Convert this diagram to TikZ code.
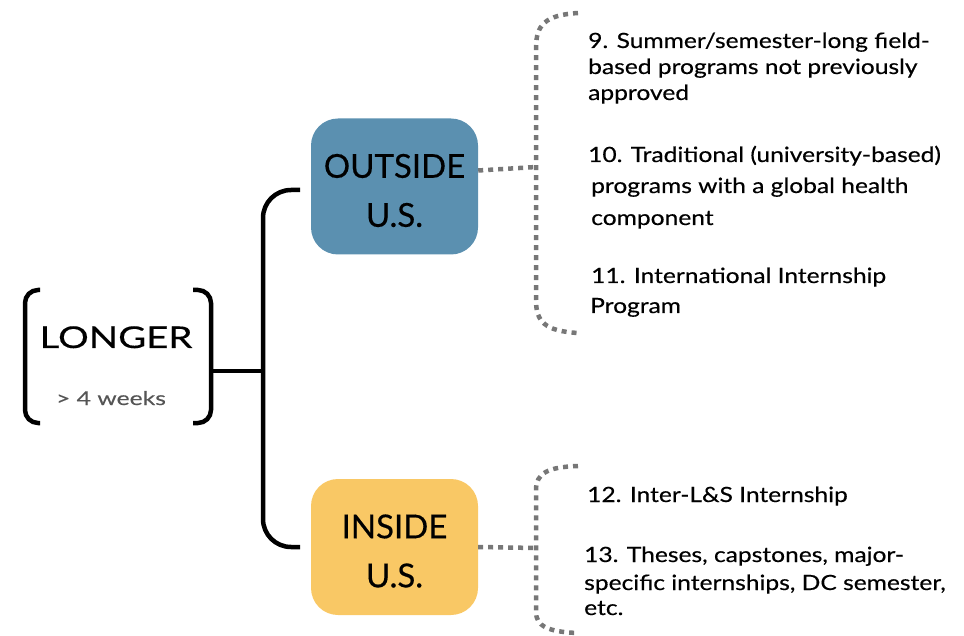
\documentclass[tikz,border=0pt]{standalone}
\usepackage{fontspec}
\setmainfont{Lato}[FakeBold=0.4]
\newfontfamily\itemfont{Lato}[FakeStretch=1.17,FakeBold=0.4]
\newfontfamily\longfont{Lato}[FakeStretch=1.28,FakeBold=0.4]
\newfontfamily\weekfont{Lato}[FakeStretch=1.3,FakeBold=0.3]
\definecolor{boxblue}{HTML}{5B90B0}
\definecolor{boxyellow}{HTML}{F9C865}
\definecolor{dotgray}{HTML}{777777}
\definecolor{subgray}{HTML}{555555}
\begin{document}
\begin{tikzpicture}[x=1pt,y=-1pt]
\tikzset{
  item/.style={anchor=base west, inner sep=0pt, font=\itemfont\fontsize{21}{25}\selectfont, text=black},
  dots/.style={draw=dotgray, line width=4.5pt, dash pattern=on 5pt off 5pt},
  tree/.style={draw=black, line width=4.5pt, rounded corners=28pt},
  paren/.style={draw=black, line width=4.5pt, rounded corners=13pt},
  catbox/.style={rounded corners=27pt, minimum width=167pt, minimum height=136pt, inner sep=0pt},
  cattext/.style={inner sep=0pt, align=center, font=\fontsize{33}{49}\selectfont, text=black},
}
\useasboundingbox (0,0) rectangle (964,636);

% LONGER group
\node[anchor=base, inner sep=0pt, font=\longfont\fontsize{30}{36}\selectfont] (longer) at (116,348) {LONGER};
\node[anchor=base, inner sep=0pt, font=\weekfont\fontsize{19}{22}\selectfont, text=subgray] (weeks) at (111,405) {> 4 weeks};
\draw[paren] (40,290) -- (25,290) -- (25,423) -- (40,423);
\draw[paren] (193,290) -- (211,290) -- (211,423) -- (193,423);
\coordinate (lr) at (211,371);

% boxes
\node[catbox, fill=boxblue] (outside) at (394.5,186.5) {};
\node[cattext] (outsidetext) at ([yshift=-4pt]outside.center) {OUTSIDE\\U.S.};
\node[catbox, fill=boxyellow] (inside) at (394.5,547) {};
\node[cattext] (insidetext) at ([yshift=-4pt]inside.center) {INSIDE\\U.S.};

% tree
\coordinate (trunk) at (263,371);
\coordinate (topend) at (300,190);
\coordinate (botend) at (300,547);
\draw[tree] (topend) -- (263,190) -- (263,547) -- (botend);
\draw[draw=black, line width=4.5pt] (lr) -- (trunk);

% dotted brackets
\coordinate (ob) at (536,167);
\coordinate (ib) at (536,548);
\draw[dots] ([yshift=16pt]outside.east) -- (ob);
\draw[dots] (inside.east) -- (ib);
\draw[dots] (578,13) .. controls (545,15) and (536,25) .. (536,48) -- (536,300)
   .. controls (536,322) and (545,331) .. (578,333);
\draw[dots] (578,466) .. controls (548,467) and (536,473) .. (536,490) -- (536,612)
   .. controls (536,626) and (548,632) .. (578,633);

% items (outside)
\node[item] (i9a) at (588,48) {9. Summer/semester-long field-};
\node[item] (i9b) at (588,74) {based programs not previously};
\node[item] (i9c) at (588,100) {approved};
\node[item] (i10a) at (588,162) {10. Traditional (university-based)};
\node[item] (i10b) at (591,193) {programs with a global health};
\node[item] (i10c) at (591,225) {component};
\node[item] (i11a) at (591,283) {11. International Internship};
\node[item] (i11b) at (590,313) {Program};
% items (inside)
\node[item] (i12) at (587,502) {12. Inter-L\&S Internship};
\node[item] (i13a) at (584,562) {13. Theses, capstones, major-};
\node[item] (i13b) at (584,590) {specific internships, DC semester,};
\node[item] (i13c) at (584,615) {etc.};
\end{tikzpicture}
\end{document}
